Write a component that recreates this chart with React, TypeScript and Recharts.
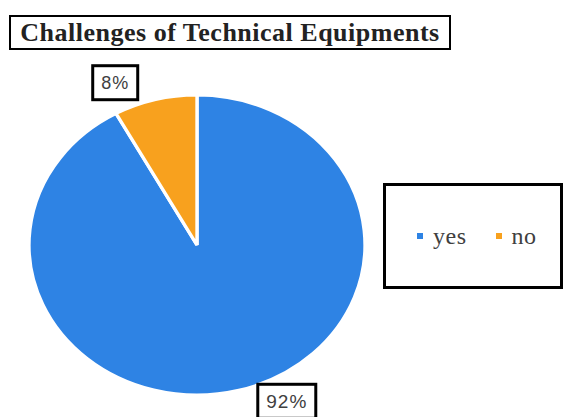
import React from "react";
import { PieChart, Pie, Cell, Legend } from "recharts";

const categories = ["yes", "no"];
const values = [92, 8];
const labels = ["92%", "8%"];
const colors = ["#2E83E4", "#F8A11E"];

const data = categories.map((name, i) => ({ name, value: values[i], label: labels[i] }));

const CX = 197;
const CY = 245;
const R = 150;
const SX = 1.12;

const labelOffsets = [
  { dx: 48, dy: 11 },
  { dx: -40, dy: -17 },
];

const renderLabel = (props: any) => {
  const { cx, cy, midAngle, outerRadius, index } = props;
  const rad = (Math.PI / 180) * midAngle;
  const x = cx + outerRadius * SX * Math.cos(rad) + labelOffsets[index].dx;
  const y = cy - outerRadius * Math.sin(rad) + labelOffsets[index].dy;
  const w = index === 0 ? 58 : 45;
  const h = 34;
  return (
    <g>
      <rect x={x - w / 2} y={y - h / 2} width={w} height={h} fill="#fff" stroke="#000" strokeWidth={3} />
      <text
        x={x}
        y={y}
        textAnchor="middle"
        dominantBaseline="central"
        fontFamily="'Liberation Sans', Arial, sans-serif"
        fontSize={index === 0 ? 19 : 18}
        letterSpacing={1}
        fill="#404040"
      >
        {data[index].label}
      </text>
    </g>
  );
};

const LegendContent = () => {
  return (
    <div
      style={{
        boxSizing: "border-box",
        width: 180,
        height: 106,
        border: "3px solid #000",
        background: "#fff",
        display: "flex",
        alignItems: "center",
        paddingLeft: 31,
        fontFamily: "'Liberation Serif', 'Times New Roman', serif",
        fontSize: 24,
        letterSpacing: 0.5,
        color: "#404040",
      }}
    >
      {data.map((d, i) => (
        <span key={d.name} style={{ display: "inline-flex", alignItems: "center", marginRight: i === 0 ? 29 : 0 }}>
          <span style={{ display: "inline-block", width: 6, height: 6, background: colors[i], marginRight: 10 }} />
          {d.name}
        </span>
      ))}
    </div>
  );
};

export default function App() {
  return (
    <div style={{ position: "absolute", left: 0, top: 0, width: 565, height: 417, background: "#fff" }}>
      <style>{`.recharts-pie-sector { transform: scaleX(${SX}); transform-origin: ${CX}px ${CY}px; }`}</style>
      <div
        style={{
          position: "absolute",
          left: 9,
          top: 15,
          width: 442,
          height: 35,
          boxSizing: "border-box",
          border: "2px solid #000",
          display: "flex",
          alignItems: "center",
          justifyContent: "center",
          fontFamily: "'Liberation Serif', 'Times New Roman', serif",
          fontWeight: "bold",
          fontSize: 26,
          letterSpacing: 0.5,
          color: "#222",
          whiteSpace: "nowrap",
          zIndex: 2,
        }}
      >
        Challenges of Technical Equipments
      </div>
      <PieChart width={565} height={417} margin={{ top: 0, right: 0, bottom: 0, left: 0 }}>
        <Pie
          data={data}
          dataKey="value"
          nameKey="name"
          cx={CX}
          cy={CY}
          outerRadius={R}
          startAngle={90}
          endAngle={-270}
          stroke="#fff"
          strokeWidth={3}
          label={renderLabel}
          labelLine={false}
          isAnimationActive={false}
        >
          {data.map((d, i) => (
            <Cell key={d.name} fill={colors[i]} />
          ))}
        </Pie>
        <Legend
          content={<LegendContent />}
          wrapperStyle={{ position: "absolute", left: 383, top: 183, width: 180, height: 106 }}
        />
      </PieChart>
    </div>
  );
}
